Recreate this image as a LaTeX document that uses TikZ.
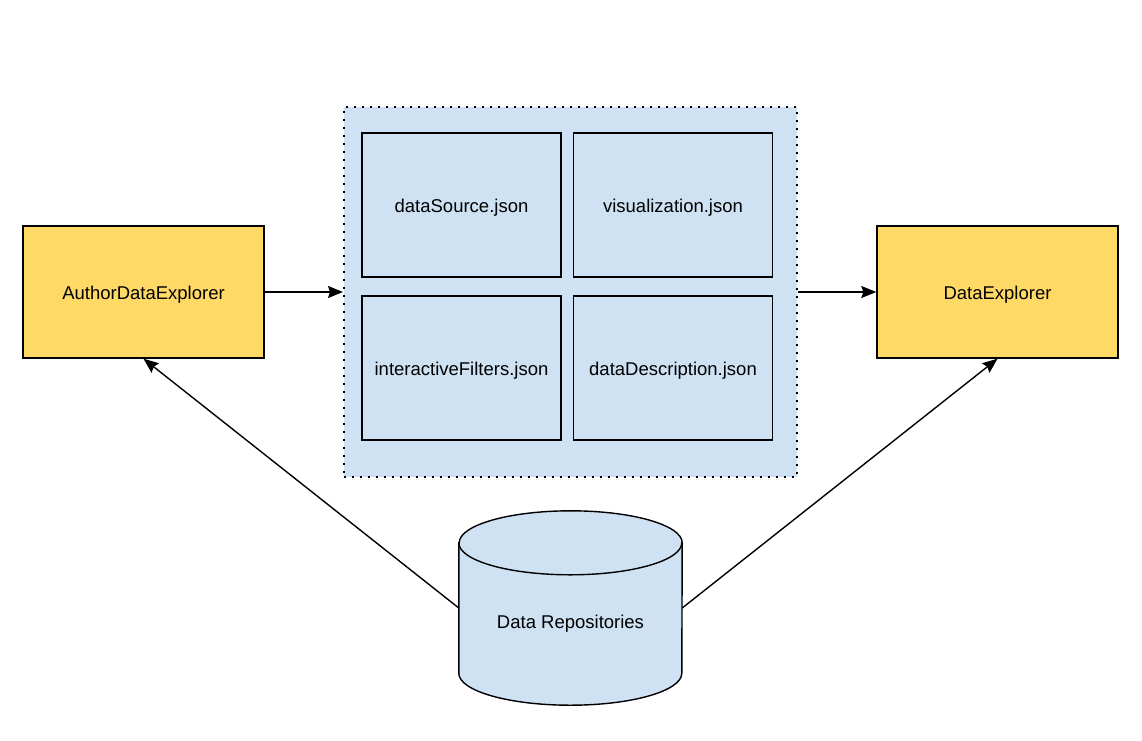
\documentclass[tikz,border=0pt]{standalone}
\usepackage{fontspec}
\setmainfont{Liberation Sans}
\usetikzlibrary{arrows.meta}
\definecolor{appyellow}{HTML}{FFD966}
\definecolor{fileblue}{HTML}{CFE2F3}
\begin{document}
\begin{tikzpicture}[x=1pt,y=-1pt,
  every node/.style={font=\fontsize{18.5}{22}\selectfont},
  appbox/.style={draw=black,line width=1.4pt,fill=appyellow,minimum width=241pt,minimum height=132pt,inner sep=0pt},
  filebox/.style={draw=black,line width=1.4pt,fill=fileblue,minimum width=199pt,minimum height=144pt,inner sep=0pt},
  group/.style={draw=black,line width=2pt,dash pattern=on 2pt off 6pt,fill=fileblue,minimum width=453pt,minimum height=370pt,inner sep=0pt},
  flow/.style={line width=1.4pt,-{Stealth[length=15pt,width=12pt,inset=2pt]}}]
% canvas
\fill[white] (0,0) rectangle (1142,740);
\useasboundingbox (0,0) rectangle (1142,740);

% the configuration bundle
\node[group] (bundle) at (570.5,292) {};
\node[filebox] (ds) at (461.5,205) {};
\node[filebox] (vis) at (673,205) {};
\node[filebox] (filt) at (461.5,368) {};
\node[filebox] (desc) at (673,368) {};
\node (dslabel) at ([yshift=-3pt]ds.center) {dataSource.json};
\node (vislabel) at ([yshift=-3pt]vis.center) {visualization.json};
\node (filtlabel) at ([yshift=-3pt]filt.center) {interactiveFilters.json};
\node (desclabel) at ([yshift=-3pt]desc.center) {dataDescription.json};

% applications
\node[appbox] (author) at (143.5,292) {};
\node[appbox] (explorer) at (997.5,292) {};
\node (authorlabel) at ([yshift=-3pt]author.center) {AuthorDataExplorer};
\node (explorerlabel) at ([yshift=-3pt]explorer.center) {DataExplorer};

% data repository cylinder
\node[minimum width=223pt,minimum height=130pt,inner sep=0pt] (repo) at (570.5,608) {};
\filldraw[fill=fileblue,draw=black,line width=1.4pt]
  (repo.north west) -- (repo.south west)
  arc[start angle=180,end angle=360,x radius=111.5pt,y radius=32pt]
  -- (repo.north east)
  arc[start angle=0,end angle=180,x radius=111.5pt,y radius=32pt] -- cycle;
\draw[line width=1.4pt] (repo.north west)
  arc[start angle=180,end angle=360,x radius=111.5pt,y radius=32pt];
\node (repolabel) at (570.5,624) {Data Repositories};

% connectors
\draw[flow] (author.east) -- (bundle.west);
\draw[flow] (bundle.east) -- (explorer.west);
\draw[flow] (repo.west) -- (author.south);
\draw[flow] (repo.east) -- (explorer.south);
\end{tikzpicture}
\end{document}
